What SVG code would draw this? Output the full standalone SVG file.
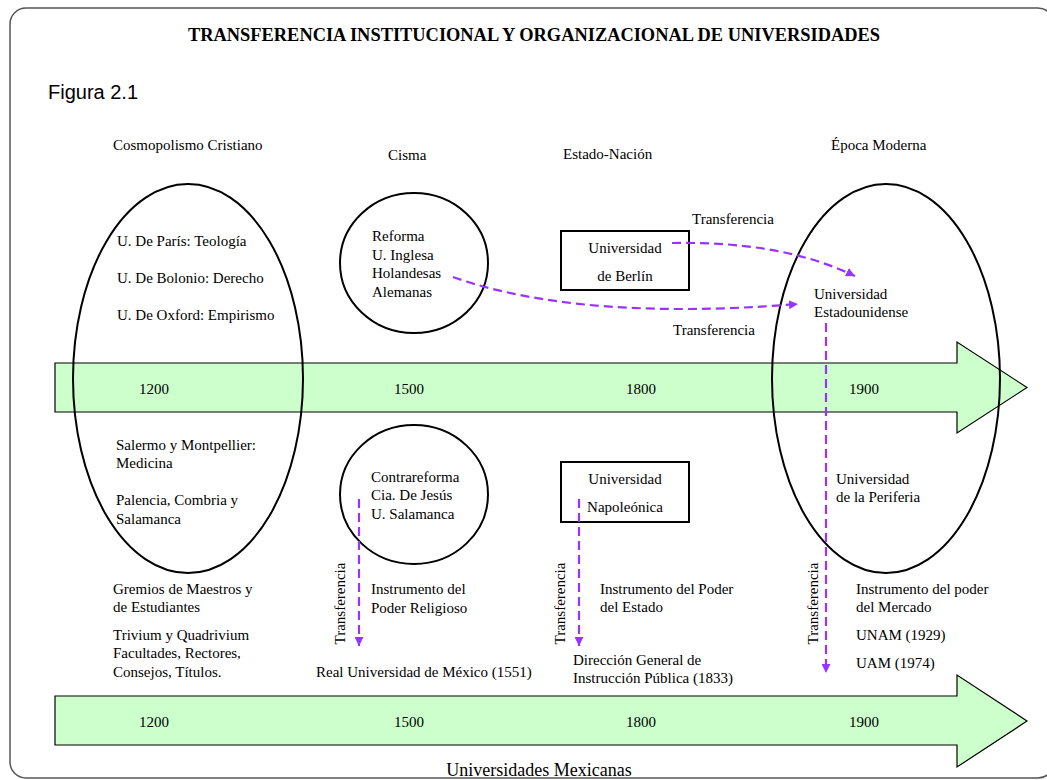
<svg xmlns="http://www.w3.org/2000/svg" width="1047" height="780" viewBox="0 0 1047 780">
<defs>
<style>
.t{font-family:"Liberation Serif","Times New Roman",serif;font-size:15px;fill:#000}
.m{text-anchor:middle}
.ttl{font-family:"Liberation Serif","Times New Roman",serif;font-size:18px;font-weight:bold;text-anchor:middle}
.fig{font-family:"Liberation Sans",Arial,sans-serif;font-size:20px}
.tl{fill:#CCFFCC;stroke:#000;stroke-width:1.2}
.ov{fill:none;stroke:#000;stroke-width:2}
.bx{fill:none;stroke:#000;stroke-width:2}
.dl{fill:none;stroke:#9933FF;stroke-width:2.2;stroke-dasharray:9,5}
</style>
<marker id="ah" viewBox="0 0 10 10" refX="10" refY="5" markerWidth="9" markerHeight="9" markerUnits="userSpaceOnUse" orient="auto">
<path d="M0,0 L10,5 L0,10 z" fill="#9933FF"/>
</marker>
</defs>
<rect x="10" y="8" width="1044" height="770" rx="16" ry="16" fill="#fff" stroke="#555" stroke-width="1.5"/>
<text class="ttl" x="534" y="41" textLength="692" lengthAdjust="spacingAndGlyphs">TRANSFERENCIA INSTITUCIONAL Y ORGANIZACIONAL DE UNIVERSIDADES</text>
<text class="fig" x="48" y="99">Figura 2.1</text>
<text class="t" x="113" y="150">Cosmopolismo Cristiano</text>
<text class="t" x="388" y="160">Cisma</text>
<text class="t" x="563" y="159">Estado-Nación</text>
<text class="t" x="831" y="150">Época Moderna</text>

<g id="timeline-top">
<polygon class="tl" points="55,363 957,363 957,342 1027,387.5 957,433 957,412 55,412"/>
<text class="t m" x="154" y="394">1200</text>
<text class="t m" x="409" y="394">1500</text>
<text class="t m" x="641" y="394">1800</text>
<text class="t m" x="864" y="394">1900</text>
</g>
<g id="timeline-bottom">
<polygon class="tl" points="55,696 957,696 957,675 1027,721 957,767 957,745 55,745"/>
<text class="t m" x="154" y="727">1200</text>
<text class="t m" x="409" y="727">1500</text>
<text class="t m" x="641" y="727">1800</text>
<text class="t m" x="864" y="727">1900</text>
</g>

<g id="cosmopolismo">
<ellipse class="ov" cx="188" cy="378.5" rx="115" ry="194.5"/>
<text class="t" x="117" y="246">U. De París: Teología</text>
<text class="t" x="117" y="283">U. De Bolonio: Derecho</text>
<text class="t" x="117" y="320">U. De Oxford: Empirismo</text>
<text class="t" x="116" y="450">Salermo y Montpellier:</text>
<text class="t" x="116" y="468">Medicina</text>
<text class="t" x="116" y="505">Palencia, Combria y</text>
<text class="t" x="116" y="524">Salamanca</text>
</g>
<g id="reforma">
<ellipse class="ov" cx="414" cy="263" rx="74" ry="70"/>
<text class="t" x="372" y="241">Reforma</text>
<text class="t" x="372" y="260">U. Inglesa</text>
<text class="t" x="372" y="278">Holandesas</text>
<text class="t" x="372" y="297">Alemanas</text>
</g>
<g id="contrareforma">
<ellipse class="ov" cx="414" cy="494.5" rx="74" ry="69.5"/>
<text class="t" x="371" y="482">Contrareforma</text>
<text class="t" x="371" y="500">Cia. De Jesús</text>
<text class="t" x="371" y="519">U. Salamanca</text>
</g>
<g id="berlin">
<rect class="bx" x="561" y="231" width="128" height="59"/>
<text class="t m" x="625" y="253">Universidad</text>
<text class="t m" x="625" y="281">de Berlín</text>
</g>
<g id="napoleonica">
<rect class="bx" x="561" y="462" width="128" height="60"/>
<text class="t m" x="625" y="484">Universidad</text>
<text class="t m" x="625" y="512">Napoleónica</text>
</g>
<g id="moderna">
<ellipse class="ov" cx="886" cy="378.5" rx="114" ry="194.5"/>
<text class="t" x="814" y="299">Universidad</text>
<text class="t" x="814" y="317">Estadounidense</text>
<text class="t" x="836" y="484">Universidad</text>
<text class="t" x="836" y="502">de la Periferia</text>
</g>

<g id="gremios">
<text class="t" x="113" y="594">Gremios de Maestros y</text>
<text class="t" x="113" y="612">de Estudiantes</text>
<text class="t" x="113" y="640">Trivium y Quadrivium</text>
<text class="t" x="113" y="658">Facultades, Rectores,</text>
<text class="t" x="113" y="677">Consejos, Títulos.</text>
</g>
<g id="religioso">
<text class="t" x="371" y="594">Instrumento del</text>
<text class="t" x="371" y="613">Poder Religioso</text>
</g>
<g id="real-universidad">
<text class="t" x="316" y="677">Real Universidad de México (1551)</text>
</g>
<g id="estado">
<text class="t" x="600" y="594">Instrumento del Poder</text>
<text class="t" x="600" y="612">del Estado</text>
</g>
<g id="direccion">
<text class="t" x="573" y="665">Dirección General de</text>
<text class="t" x="573" y="683">Instrucción Pública (1833)</text>
</g>
<g id="mercado">
<text class="t" x="856" y="594">Instrumento del poder</text>
<text class="t" x="856" y="612">del Mercado</text>
<text class="t" x="856" y="640">UNAM (1929)</text>
<text class="t" x="856" y="668">UAM (1974)</text>
</g>

<g id="connectors">
<path class="dl" d="M453,277 C560,315 700,312 798,304" marker-end="url(#ah)"/>
<path class="dl" d="M672,243 C740,242 800,250 855,276" marker-end="url(#ah)"/>
<path class="dl" d="M359,499 L359,646" marker-end="url(#ah)"/>
<path class="dl" d="M579,499 L579,646" marker-end="url(#ah)"/>
<path class="dl" d="M826,323 L826,673" marker-end="url(#ah)"/>
<text class="t" x="692" y="224">Transferencia</text>
<text class="t" x="673" y="335">Transferencia</text>
<text class="t m" x="345" y="603.5" transform="rotate(-90 345 603.5)">Transferencia</text>
<text class="t m" x="565" y="603.5" transform="rotate(-90 565 603.5)">Transferencia</text>
<text class="t m" x="818" y="603.5" transform="rotate(-90 818 603.5)">Transferencia</text>
</g>

<text class="t m" x="539" y="776" style="font-size:18px">Universidades Mexicanas</text>
</svg>
